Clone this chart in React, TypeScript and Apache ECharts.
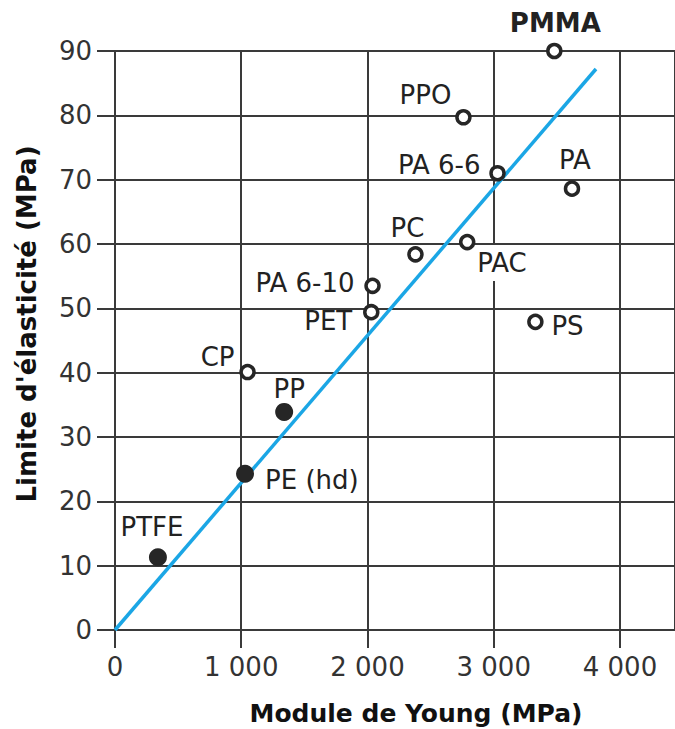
import React, { useEffect, useRef } from 'react';
import * as echarts from 'echarts';

// ---- data ----
const materials = ['PMMA', 'PPO', 'PA 6-6', 'PA', 'PC', 'PAC', 'PA 6-10', 'PET', 'PS', 'CP', 'PP', 'PE (hd)', 'PTFE'];
const youngModulus = [3480, 2760, 3030, 3620, 2380, 2790, 2040, 2030, 3330, 1050, 1340, 1030, 340];
const yieldStrength = [90, 79.7, 71.0, 68.6, 58.4, 60.3, 53.5, 49.4, 47.9, 40.1, 33.9, 24.3, 11.3];
const filledMarker = [false, false, false, false, false, false, false, false, false, false, true, true, true];
const trendX = [0, 3810];
const trendY = [0, 87.2];
const xTickValues = [0, 1000, 2000, 3000, 4000];
const xTickLabels = ['0', '1 000', '2 000', '3 000', '4 000'];
const yTickValues = [0, 10, 20, 30, 40, 50, 60, 70, 80, 90];

// ---- layout of the labels (offset from marker centre, alignment, bold) ----
const labelLayout: Record<string, [number, number, string, boolean?]> = {
  'PMMA': [1, -28, 'center', true],
  'PPO': [-12, -22, 'right'],
  'PA 6-6': [-17, -8, 'right'],
  'PA': [3, -29, 'center'],
  'PC': [-8, -26, 'center'],
  'PAC': [10, 21, 'left'],
  'PA 6-10': [-18, -3, 'right'],
  'PET': [-19, 9, 'right'],
  'PS': [16, 4, 'left'],
  'CP': [-13, -15, 'right'],
  'PP': [5, -23, 'center'],
  'PE (hd)': [20, 6, 'left'],
  'PTFE': [-6, -30, 'center'],
};

const FONT = 'DejaVu Sans';
const INK = '#333333';
const GRID = '#3a3a3a';

export default function App() {
  const ref = useRef<HTMLDivElement>(null);
  useEffect(() => {
    if (!ref.current) return;
    const chart = echarts.init(ref.current, undefined, { renderer: 'svg' });
    const points = materials.map((m, i) => {
      const [dx, dy, align, bold] = labelLayout[m];
      return {
        name: m,
        value: [youngModulus[i], yieldStrength[i]],
        symbolSize: filledMarker[i] ? 18 : 13,
        itemStyle: filledMarker[i]
          ? { color: '#262626', borderWidth: 0, opacity: 1 }
          : { color: '#ffffff', borderColor: '#262626', borderWidth: 3.5, opacity: 1 },
        label: {
          show: true,
          formatter: m,
          position: 'inside',
          offset: [dx, dy],
          align,
          verticalAlign: 'middle',
          fontFamily: FONT,
          fontSize: 26,
          fontWeight: bold ? 'bold' : 'normal',
          color: '#222222',
          opacity: 1,
          ...(m === 'PAC' ? { backgroundColor: '#ffffff', padding: [5, 2, 5, 0] } : {}),
        },
      };
    });
    chart.setOption({
      animation: false,
      backgroundColor: '#ffffff',
      grid: { left: 115, top: 51, width: 562, height: 579, containLabel: false },
      xAxis: {
        type: 'value',
        min: 0,
        max: 4436,
        interval: 1000,
        axisLine: { show: false },
        axisTick: { show: true, length: 18, lineStyle: { color: GRID, width: 2 } },
        splitLine: { show: true, lineStyle: { color: GRID, width: 2 } },
        axisLabel: {
          margin: 24,
          fontFamily: FONT,
          fontSize: 26,
          color: INK,
          showMaxLabel: false,
          formatter: (v: number) => {
            const k = xTickValues.indexOf(v);
            return k >= 0 ? xTickLabels[k] : '';
          },
        },
      },
      yAxis: {
        type: 'value',
        min: 0,
        max: 90,
        interval: 10,
        axisLine: { show: false },
        axisTick: { show: true, length: 18, lineStyle: { color: GRID, width: 2 } },
        splitLine: { show: true, lineStyle: { color: GRID, width: 2 } },
        axisLabel: {
          margin: 23,
          fontFamily: FONT,
          fontSize: 26,
          color: INK,
          formatter: (v: number) => (yTickValues.indexOf(v) >= 0 ? String(v) : ''),
        },
      },
      graphic: [
        {
          type: 'text',
          x: 416,
          y: 713,
          style: {
            text: 'Module de Young (MPa)',
            fontFamily: FONT,
            fontSize: 25,
            fontWeight: 'bold',
            fill: '#111',
            align: 'center',
            verticalAlign: 'middle',
          },
        },
        {
          type: 'text',
          x: 27,
          y: 324,
          rotation: Math.PI / 2,
          style: {
            text: "Limite d'élasticité (MPa)",
            fontFamily: FONT,
            fontSize: 26,
            fontWeight: 'bold',
            fill: '#111',
            align: 'center',
            verticalAlign: 'middle',
          },
        },
      ],
      series: [
        {
          type: 'line',
          data: trendX.map((x, i) => [x, trendY[i]]),
          showSymbol: false,
          symbol: 'none',
          lineStyle: { color: '#1ba6e5', width: 3.5 },
          z: 2,
          silent: true,
        },
        {
          type: 'scatter',
          data: points,
          itemStyle: { opacity: 1 },
          z: 3,
          silent: true,
        },
      ],
    });
    return () => chart.dispose();
  }, []);
  return <div ref={ref} style={{ position: 'absolute', left: 0, top: 0, width: 675, height: 729 }} />;
}
